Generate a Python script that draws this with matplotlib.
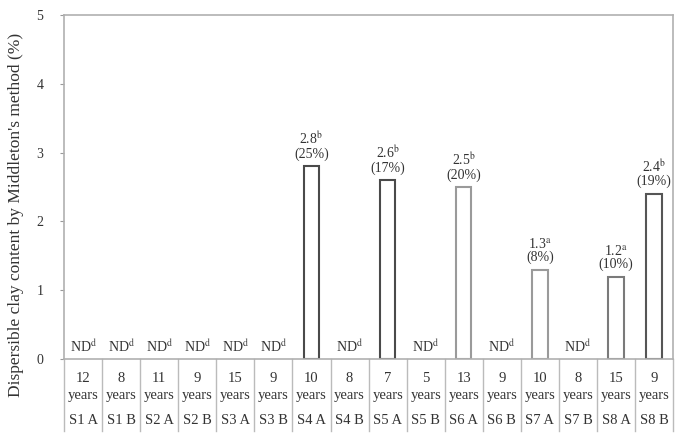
import numpy as np
import matplotlib.pyplot as plt
from matplotlib.transforms import blended_transform_factory

plt.rcParams['font.family'] = 'Liberation Serif'
plt.rcParams['mathtext.fontset'] = 'stix'

sites = ['S1 A', 'S1 B', 'S2 A', 'S2 B', 'S3 A', 'S3 B', 'S4 A', 'S4 B',
         'S5 A', 'S5 B', 'S6 A', 'S6 B', 'S7 A', 'S7 B', 'S8 A', 'S8 B']
ages = [12, 8, 11, 9, 15, 9, 10, 8, 7, 5, 13, 9, 10, 8, 15, 9]
# None = not detected
clay = [None, None, None, None, None, None, 2.8, None,
        2.6, None, 2.5, None, 1.3, None, 1.2, 2.4]
letters = ['', '', '', '', '', '', 'b', '', 'b', '', 'b', '', 'a', '', 'a', 'b']
share = [0, 0, 0, 0, 0, 0, 25, 0, 17, 0, 20, 0, 8, 0, 10, 19]

edge_cols = ['#555555', '#555555', '#555555', '#555555', '#555555', '#555555',
             '#4a4a4a', '#555555', '#4a4a4a', '#555555', '#9a9a9a', '#555555',
             '#9a9a9a', '#555555', '#7a7a7a', '#555555']

fig = plt.figure(figsize=(6.82, 4.37), dpi=100)
ax = fig.add_axes([0.094, 0.178, 0.893, 0.788])

x = np.arange(len(sites))
heights = [v if v is not None else 0 for v in clay]
for i, h in enumerate(heights):
    if clay[i] is None:
        ax.text(x[i], 0.06, r'ND$^{\mathrm{d}}$', ha='center', va='bottom',
                fontsize=10, color='#333333')
        continue
    ax.bar(x[i], h, width=0.4, facecolor='white', edgecolor=edge_cols[i],
           linewidth=1.5)
    ax.text(x[i], h + 0.08,
            r'%.1f$^{\mathrm{%s}}$' % (h, letters[i]) + '\n(%d%%)' % share[i],
            ha='center', va='bottom', fontsize=10, linespacing=1.0,
            color='#333333')

ax.set_xlim(-0.5, len(sites) - 0.5)
ax.set_ylim(0, 5)
ax.set_yticks([0, 1, 2, 3, 4, 5])
ax.set_xticks([])
ax.tick_params(axis='y', labelsize=10, length=3, color='#999999',
               labelcolor='#333333', pad=12)
for s in ['top', 'right', 'left', 'bottom']:
    ax.spines[s].set_color('#b0b0b0')
    ax.spines[s].set_linewidth(1.2)
ax.set_ylabel("Dispersible clay content by Middleton's method (%)",
              fontsize=12.5, color='#333333')
ax.yaxis.set_label_coords(-0.066, 0.42)

# table under the axis
tr = blended_transform_factory(ax.transData, ax.transAxes)
h_ax = 0.788 * 437
def yax(px):
    return -px / h_ax

for b in np.arange(-0.5, len(sites), 1.0):
    ax.plot([b, b], [0, yax(72)], transform=tr, color='#bbbbbb', lw=1,
            clip_on=False)
for i in range(len(sites)):
    ax.text(x[i], yax(19), str(ages[i]), transform=tr, ha='center',
            va='center', fontsize=10.5, color='#333333')
    ax.text(x[i], yax(36), 'years', transform=tr, ha='center',
            va='center', fontsize=10.5, color='#333333')
    ax.text(x[i], yax(61), sites[i], transform=tr, ha='center',
            va='center', fontsize=10.5, color='#333333')

fig.savefig('out.png', dpi=100)
